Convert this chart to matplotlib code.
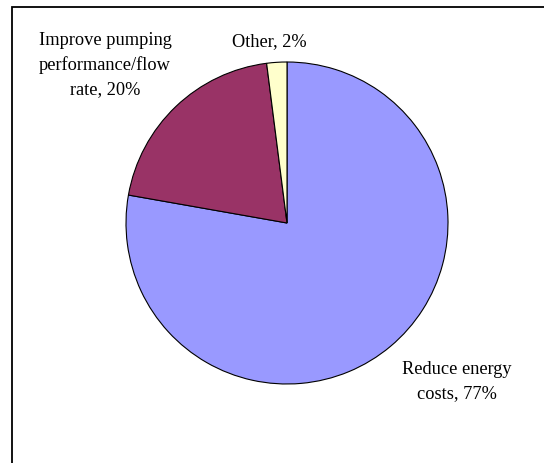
import matplotlib
matplotlib.use("Agg")
import matplotlib.pyplot as plt
from matplotlib.patches import Rectangle

# Reasons for upgrading pumps (share of responses, %)
categories = ["Reduce energy costs", "Improve pumping\nperformance/flow rate", "Other"]
shares = [77, 20, 2]
colors = ["#9999FF", "#993366", "#FFFFCC"]
label_texts = ["Reduce energy\ncosts, 77%", "Improve pumping\nperformance/flow\nrate, 20%", "Other, 2%"]

W, H = 544, 464
fig = plt.figure(figsize=(W / 100, H / 100), dpi=100)
ax = fig.add_axes([0, 0, 1, 1])
ax.set_xlim(0, W)
ax.set_ylim(0, H)
ax.set_aspect("equal")
ax.axis("off")

# chart-area frame (runs off the right and bottom edges)
ax.add_patch(Rectangle((11.5, -10), 600, H - 7.5 + 10, fill=False,
                       edgecolor="black", linewidth=1.3, clip_on=False))

ax.pie(shares, colors=colors, startangle=90, counterclock=False,
       center=(287, H - 224), radius=161,
       wedgeprops=dict(edgecolor="black", linewidth=0.8))
ax.set_xlim(0, W)
ax.set_ylim(0, H)

font = dict(family="Liberation Serif", fontsize=13.2, color="black",
            ha="center", va="center", linespacing=1.55)
ax.text(457, H - 382, label_texts[0], **font)
ax.text(105, H - 65, label_texts[1], **font)
ax.text(269, H - 42, label_texts[2], **font)

fig.savefig("out.png", dpi=100)
